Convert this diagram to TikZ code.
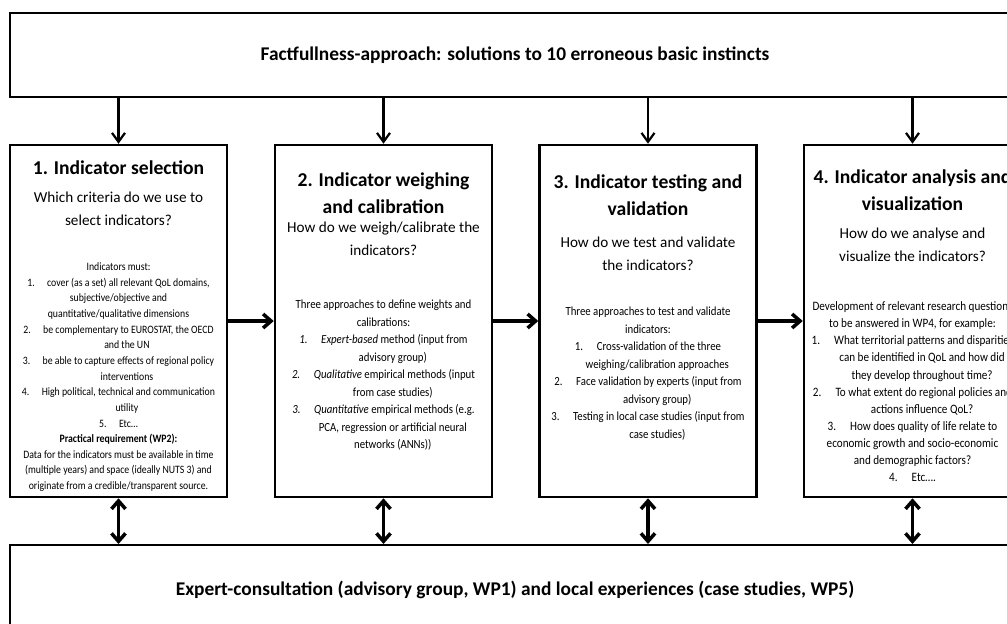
\documentclass[tikz,border=0pt]{standalone}
\usepackage{fontspec}
\setmainfont{Carlito}
\newfontfamily\bodyfont{Carlito}[FakeStretch=0.87]
\usetikzlibrary{arrows.meta}
\newcommand{\gapn}{\hspace{1.1em}}
\newcommand{\indn}{\hspace*{1.5em}}
\begin{document}
\begin{tikzpicture}[x=1pt,y=-1pt,
  frame/.style={draw, line width=2pt, inner sep=0pt, minimum width=1010pt, font=\fontsize{19.4}{24}\selectfont\bfseries},
  bigbox/.style={draw, line width=2.5pt, minimum width=217pt, minimum height=352pt, inner sep=0pt},
  head/.style={anchor=north, align=center, inner sep=0pt, font=\fontsize{19.6}{27}\selectfont\bfseries},
  sub/.style={anchor=north, align=center, inner sep=0pt, font=\fontsize{15.2}{23}\selectfont},
  bodyA/.style={anchor=north, align=center, inner sep=0pt, font=\bodyfont\fontsize{11.26}{15.64}\selectfont},
  bodyB/.style={anchor=north, align=center, inner sep=0pt, font=\bodyfont\fontsize{12.4}{17.5}\selectfont},
  bodyC/.style={anchor=north, align=center, inner sep=0pt, font=\bodyfont\fontsize{12.8}{17.1}\selectfont},
  thinarrow/.style={line width=2.2pt, -{Straight Barb[length=9pt,width=13pt]}},
  thickarrow/.style={line width=3.5pt, -{Straight Barb[length=8pt,width=14pt]}},
  botharrow/.style={line width=3.5pt, {Straight Barb[length=8pt,width=14pt]}-{Straight Barb[length=8pt,width=14pt]}},
]
\useasboundingbox[fill=white] (0,0) rectangle (1007,624);

% top and bottom frames
\node[frame, minimum height=84pt] (top) at (515,55) {Factfullness-approach: solutions to 10 erroneous basic instincts};
\node[frame, minimum height=90pt] (bot) at (515,590) {Expert-consultation (advisory group, WP1) and local experiences (case studies, WP5)};

% four boxes
\node[bigbox] (b1) at (118.5,321) {};
\node[bigbox] (b2) at (383.5,321) {};
\node[bigbox] (b3) at (648,321) {};
\node[bigbox] (b4) at (912.5,321) {};

% box 1
\node[head] (h1) at (118.5,155.1) {\strut 1. Indicator selection};
\node[sub] (s1) at (118.5,185.9) {\strut Which criteria do we use to\\ select indicators?};
\node[bodyA] (t1) at (118.5,259.5) {\strut Indicators must:\\
1.\gapn cover (as a set) all relevant QoL domains,\\
subjective/objective and\\
quantitative/qualitative dimensions\\
2.\gapn be complementary to EUROSTAT, the OECD\\
\indn and the UN\\
3.\gapn be able to capture effects of regional policy\\
\indn interventions\\
4.\gapn High political, technical and communication\\
\indn utility\\
5.\gapn Etc…\\
\textbf{Practical requirement (WP2):}\\
Data for the indicators must be available in time\\
(multiple years) and space (ideally NUTS 3) and\\
originate from a credible/transparent source.};

% box 2
\node[head] (h2) at (383.5,167.1) {\strut 2. Indicator weighing\\ and calibration};
\node[sub] (s2) at (383.5,215.9) {\strut How do we weigh/calibrate the\\ indicators?};
\node[bodyB] (t2) at (383.5,296.25) {\strut Three approaches to define weights and\\
calibrations:\\
\textit{1.}\gapn\textit{Expert-based} method (input from\\
\indn advisory group)\\
\textit{2.}\gapn\textit{Qualitative} empirical methods (input\\
\indn from case studies)\\
\textit{3.}\gapn\textit{Quantitative} empirical methods (e.g.\\
\indn PCA, regression or artificial neural\\
\indn networks (ANNs))};

% box 3
\node[head] (h3) at (648,169.6) {\strut 3. Indicator testing and\\ validation};
\node[sub] (s3) at (648,230.9) {\strut How do we test and validate\\ the indicators?};
\node[bodyB] (t3) at (648,303.25) {\strut Three approaches to test and validate\\
indicators:\\
1.\gapn Cross-validation of the three\\
\indn weighing/calibration approaches\\
2.\gapn Face validation by experts (input from\\
\indn advisory group)\\
3.\gapn Testing in local case studies (input from\\
\indn case studies)};

% box 4
\node[head] (h4) at (912.5,164.1) {\strut 4. Indicator analysis and\\ visualization};
\node[sub] (s4) at (912.5,221.9) {\strut How do we analyse and\\ visualize the indicators?};
\node[bodyC] (t4) at (912.5,298.5) {\strut Development of relevant research questions\\
to be answered in WP4, for example:\\
1.\gapn What territorial patterns and disparities\\
\indn can be identified in QoL and how did\\
\indn they develop throughout time?\\
2.\gapn To what extent do regional policies and\\
\indn actions influence QoL?\\
3.\gapn How does quality of life relate to\\
economic growth and socio-economic\\
and demographic factors?\\
4.\gapn Etc….};

% arrows from top frame and to bottom frame
\foreach \b in {b1,b2,b3,b4}{
  \draw[thinarrow] (\b.north |- top.south) -- (\b.north);
  \draw[botharrow] (\b.south) -- (\b.south |- bot.north);
}
% horizontal arrows
\draw[thickarrow] (b1.east) -- (b2.west);
\draw[thickarrow] (b2.east) -- (b3.west);
\draw[thickarrow] (b3.east) -- (b4.west);
\end{tikzpicture}
\end{document}
